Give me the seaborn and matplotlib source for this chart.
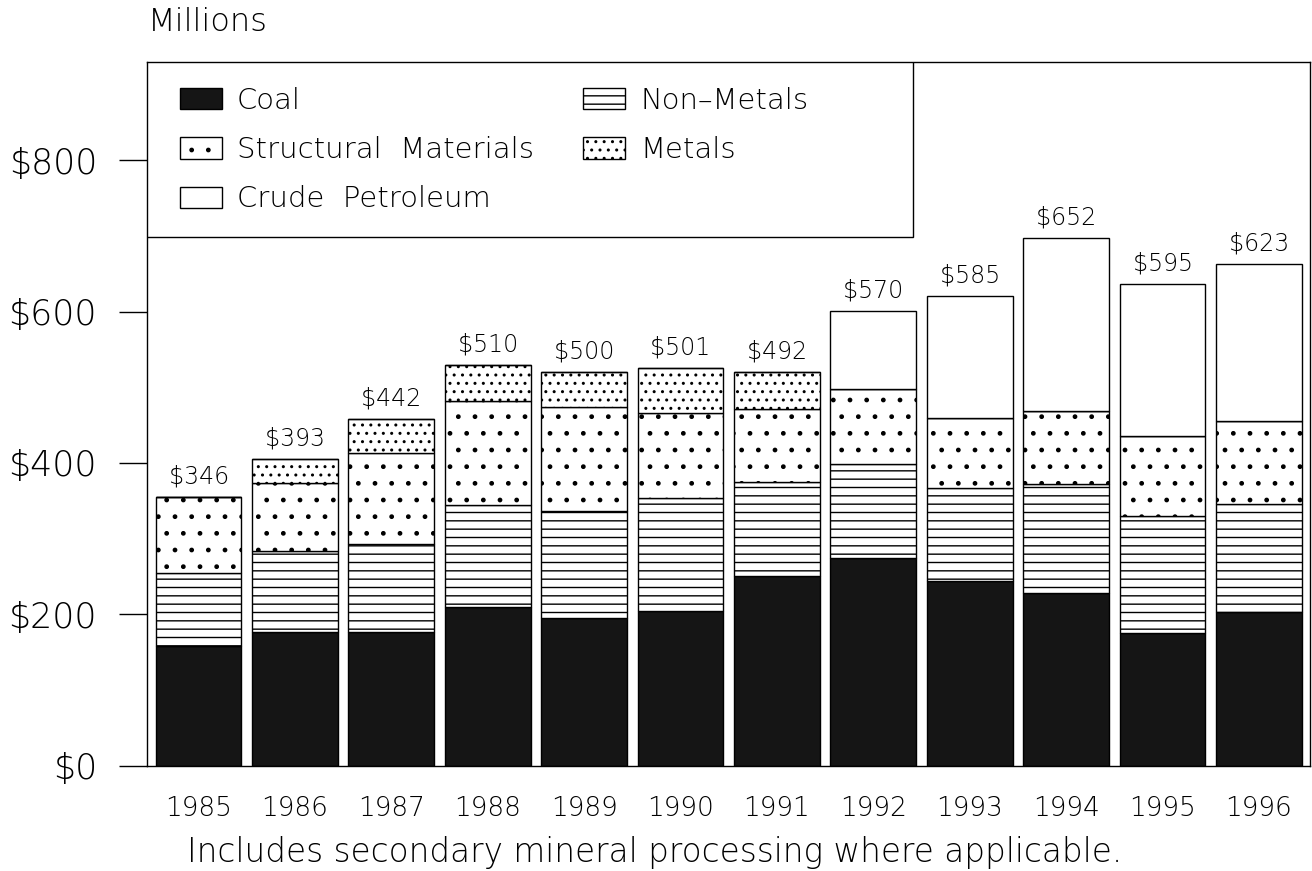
import matplotlib
matplotlib.use("Agg")
import matplotlib.pyplot as plt
from matplotlib.patches import Patch, Rectangle
import seaborn as sns
import numpy as np

# values in $ millions
years = ["1985", "1986", "1987", "1988", "1989", "1990",
         "1991", "1992", "1993", "1994", "1995", "1996"]
coal = [158.4, 176.9, 176.9, 209.9, 194.6, 204.7, 250.9, 273.9, 243.9, 227.7, 174.8, 202.5]
non_metals = [95.7, 106.7, 115.9, 134.5, 141.9, 148.6, 124.3, 124.3, 122.6, 144.1, 155.1, 143.2]
structural = [100.5, 89.5, 120.7, 137.5, 137.1, 113.1, 96.1, 99.2, 92.5, 97.3, 105.7, 109.7]
metals = [0, 31.7, 44.2, 47.6, 47.0, 59.5, 48.9, 0, 0, 0, 0, 0]
petroleum = [0, 0, 0, 0, 0, 0, 0, 103.9, 161.7, 227.9, 201.0, 207.6]
totals = [346, 393, 442, 510, 500, 501, 492, 570, 585, 652, 595, 623]

plt.rcParams["font.family"] = ["DejaVu Sans"]
plt.rcParams["font.weight"] = "light"
plt.rcParams["hatch.linewidth"] = 1.0
plt.rcParams["hatch.color"] = "black"

fig = plt.figure(figsize=(13.12, 8.71), dpi=100)
ax = fig.add_axes([147 / 1312, 1 - 765.5 / 871, (1310 - 147) / 1312, (765.5 - 62) / 871])

# layers bottom to top: (values, fill, hatch)
layers = [
    (coal, "#151515", None),
    (non_metals, "white", "--"),
    (structural, "white", "."),
    (metals, "white", ".."),
    (petroleum, "white", None),
]

bottom = np.zeros(len(years))
for vals, fill, hatch in layers:
    sns.barplot(x=years, y=vals, bottom=bottom, ax=ax, color=fill, saturation=1,
                width=0.89, edgecolor="black", linewidth=1, hatch=hatch)
    bottom = bottom + np.array(vals)

# total labels above each bar
for i, t in enumerate(totals):
    ax.annotate(f"${t}", (i, bottom[i]), xytext=(0, 6), textcoords="offset points",
                ha="center", va="bottom", fontsize=17)

ax.set_xlim(-0.535, 11.53)
ax.set_ylim(0, 930)
ax.set_yticks([0, 200, 400, 600, 800])
ax.set_yticklabels(["$0", "$200", "$400", "$600", "$800"])
ax.tick_params(axis="y", length=20, width=1, pad=16, labelsize=25, direction="out")
ax.tick_params(axis="x", length=0, pad=22, labelsize=19)
ax.set_xlabel("")
ax.set_ylabel("")
for s in ax.spines.values():
    s.set_color("black")
    s.set_linewidth(1)

# legend box in the upper left corner
ax.add_patch(Rectangle((0, 1 - 175 / 703.5), 766 / 1163, 175 / 703.5, transform=ax.transAxes,
                       facecolor="white", edgecolor="black", linewidth=1, zorder=4))
handles = [
    Patch(facecolor="#151515", edgecolor="black", label="Coal"),
    Patch(facecolor="white", edgecolor="black", hatch=".", label="Structural  Materials"),
    Patch(facecolor="white", edgecolor="black", label="Crude  Petroleum"),
    Patch(facecolor="white", edgecolor="black", hatch="--", label="Non\u2013Metals"),
    Patch(facecolor="white", edgecolor="black", hatch="..", label="Metals"),
]
leg = ax.legend(handles=handles, loc="upper left", bbox_to_anchor=(0.007, 1), borderaxespad=0,
                ncol=2, fontsize=21, frameon=False, handlelength=1.44, handleheight=0.75,
                handletextpad=0.51, labelspacing=0.73, columnspacing=1.7, borderpad=0.85)
leg.set_zorder(5)

fig.text(148 / 1312, 1 - 22 / 871, "Millions", ha="left", va="center", fontsize=23)
fig.text(655 / 1312, 1 - 852 / 871, "Includes secondary mineral processing where applicable.",
         ha="center", va="center", fontsize=23.5)

fig.savefig("out.png", dpi=100)
